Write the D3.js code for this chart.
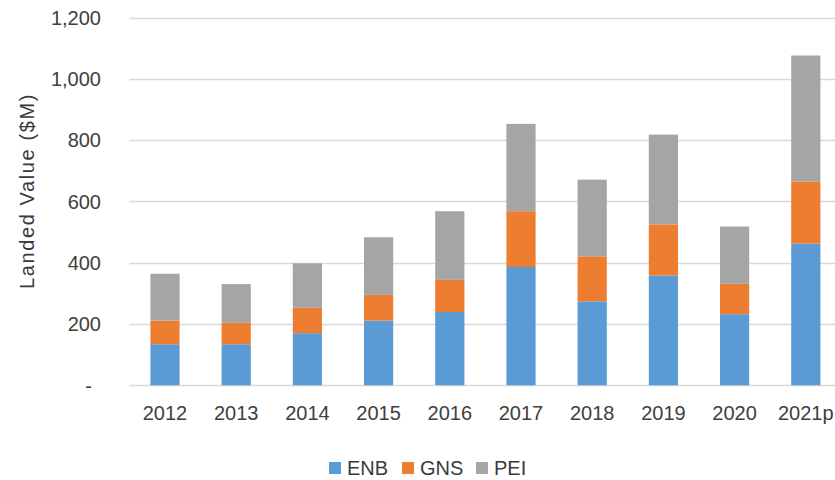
<!DOCTYPE html>
<html><head><meta charset="utf-8">
<script src="https://cdn.jsdelivr.net/npm/d3@7"></script>
<style>body{margin:0;background:#fff}svg{display:block}text{font-family:"Liberation Sans",Arial,sans-serif;fill:#404040}</style>
</head><body><svg id="c" width="835" height="480"></svg>
<script>
const years = ["2012","2013","2014","2015","2016","2017","2018","2019","2020","2021p"];
const seriesNames = ["ENB","GNS","PEI"];
const enb = [134,134,170,211,239,386,274,358,232,462];
const gns = [77,70,83,84,105,182,147,167,99,203];
const pei = [153,126,145,188,224,285,250,293,187,411];
const yTicks = [0,200,400,600,800,1000,1200];
const colors = ["#5b9bd5","#ed7d31","#a5a5a5"];

const svg = d3.select("#c");
const x = d3.scaleBand().domain(years).range([129.4, 841.4]).paddingInner(0.59).paddingOuter(0.295);
const y = d3.scaleLinear().domain([0,1200]).range([385.3, 17.5]);

const rows = years.map((yr,i)=>({year:yr, ENB:enb[i], GNS:gns[i], PEI:pei[i]}));
const stacked = d3.stack().keys(seriesNames)(rows);

// gridlines
svg.append("g").selectAll("line").data(yTicks).join("line")
  .attr("x1",129.4).attr("x2",841.4)
  .attr("y1",d=>Math.round(y(d))+0.5).attr("y2",d=>Math.round(y(d))+0.5)
  .attr("stroke","#d9d9d9").attr("stroke-width",1.5);

// y axis labels
const yAxis = d3.axisLeft(y).tickValues(yTicks).tickSize(0).tickPadding(0)
  .tickFormat(d=> d===0 ? "-" : d3.format(",")(d));
const ya = svg.append("g").attr("transform","translate(101,0)").call(yAxis);
ya.select(".domain").remove();
ya.selectAll("text").style("font-size","20px").attr("fill","#3a3a3a").attr("dy","0.34em")
  .attr("dx",d=>d===0?-9:0);

// bars
svg.append("g").selectAll("g").data(stacked).join("g")
  .attr("fill",(d,i)=>colors[i])
  .selectAll("rect").data(d=>d).join("rect")
  .attr("x",d=>x(d.data.year)).attr("width",x.bandwidth())
  .attr("y",d=>y(d[1])).attr("height",d=>y(d[0])-y(d[1]));

// x axis labels
const xAxis = d3.axisBottom(x).tickSize(0).tickPadding(0);
const xa = svg.append("g").attr("transform","translate(0,406)").call(xAxis);
xa.select(".domain").remove();
xa.selectAll("text").style("font-size","20px").attr("fill","#3a3a3a").attr("dy","0.72em");

// y title
svg.append("text").attr("transform","translate(34,191) rotate(-90)")
  .attr("text-anchor","middle").style("font-size","20px").style("letter-spacing","1.6px")
  .style("fill","#3a3a3a")
  .text("Landed Value ($M)");

// legend
const legX = [329, 402, 476];
const lg = svg.append("g").selectAll("g").data(seriesNames).join("g")
  .attr("transform",(d,i)=>`translate(${legX[i]},468)`);
lg.append("rect").attr("x",0).attr("y",-6).attr("width",12).attr("height",12).attr("fill",(d,i)=>colors[i]);
lg.append("text").attr("x",18).attr("y",0).attr("dy","0.36em").style("font-size","20px").style("fill","#3a3a3a").text(d=>d);
</script></body></html>
